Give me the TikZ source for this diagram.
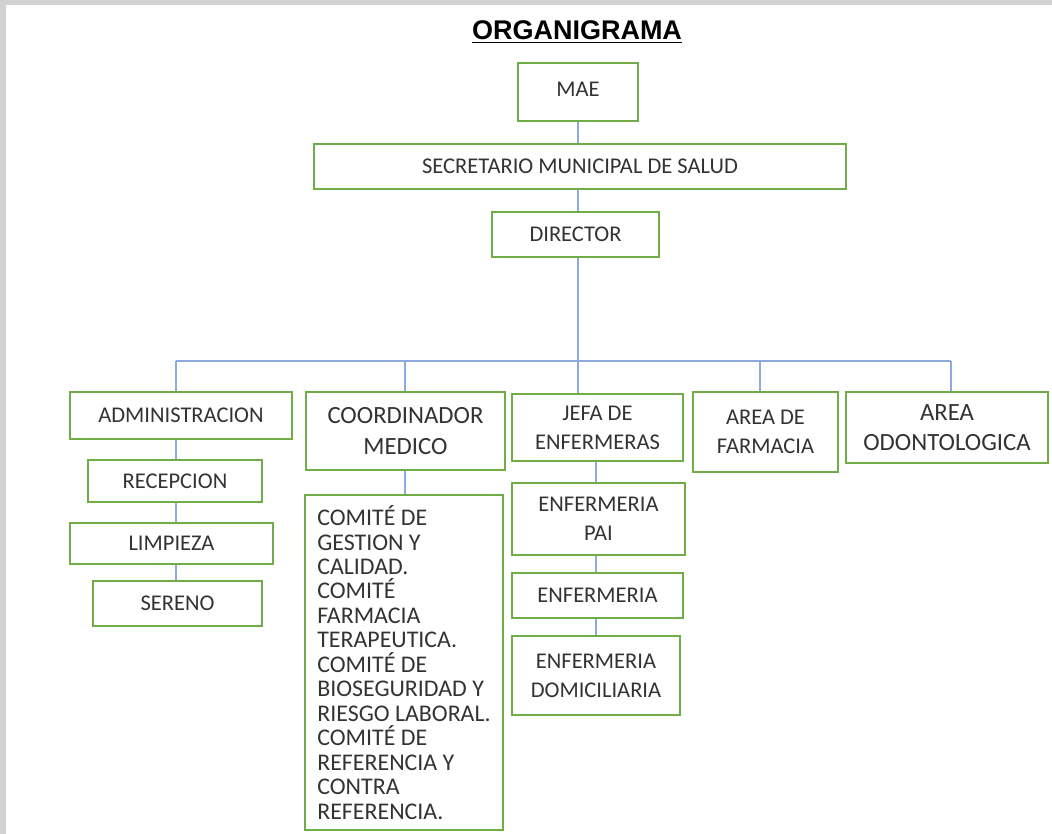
\documentclass[tikz,border=0pt]{standalone}
\usepackage{fontspec}
\setmainfont{Carlito}
\newfontfamily\titlefont{Liberation Sans}
\usetikzlibrary{calc}

\definecolor{boxgreen}{HTML}{70AD47}
\definecolor{linkblue}{HTML}{8EA9DB}
\definecolor{textgray}{HTML}{333333}
\definecolor{bggray}{HTML}{D2D2D2}

\tikzset{
  orgbox/.style={draw=boxgreen, line width=1.4pt, fill=white, inner sep=0pt,
    align=center, text=textgray, font=\fontsize{16}{20.5}\selectfont},
  bigtext/.style={font=\fontsize{17.6}{21.5}\selectfont},
  link/.style={draw=linkblue, line width=1.1pt}
}

\begin{document}
\begin{tikzpicture}[x=0.025cm, y=-0.025cm]
      \useasboundingbox (0,0) rectangle (1052,834);

      % Gray frame and white sheet
      \fill[bggray] (0,0) rectangle (1052,834);
      \fill[white] (6,5) rectangle (1052,834);

      % Title
      \node[font=\titlefont\bfseries\fontsize{19.2}{23}\selectfont] (title) at (577,32) {\underline{ORGANIGRAMA}};

      % Top of the chart
      \node[orgbox, minimum width=3.0cm, minimum height=1.45cm] (mae) at (578,92) {\raisebox{4pt}{MAE}};
      \node[orgbox, minimum width=13.3cm, minimum height=1.125cm] (secretario) at (580,166.5) {SECRETARIO MUNICIPAL DE SALUD};
      \node[orgbox, minimum width=4.175cm, minimum height=1.125cm] (director) at (575.5,234.5) {DIRECTOR};

      % Second level
      \node[orgbox, minimum width=5.55cm, minimum height=1.175cm] (admin) at (181,415.5) {ADMINISTRACION};
      \node[orgbox, bigtext, minimum width=4.975cm, minimum height=1.95cm] (coord) at (405.5,431) {COORDINADOR\\MEDICO};
      \node[orgbox, minimum width=4.275cm, minimum height=1.675cm] (jefa) at (597.5,427.5) {JEFA DE\\ENFERMERAS};
      \node[orgbox, minimum width=3.625cm, minimum height=2.0cm] (farmacia) at (765.5,432) {AREA DE\\FARMACIA};
      \node[orgbox, bigtext, minimum width=5.05cm, minimum height=1.775cm] (odonto) at (947,427.5) {AREA\\ODONTOLOGICA};

      % Under administracion
      \node[orgbox, minimum width=4.35cm, minimum height=1.05cm] (recepcion) at (175,481) {RECEPCION};
      \node[orgbox, minimum width=5.075cm, minimum height=1.025cm] (limpieza) at (171.5,543.5) {LIMPIEZA};
      \node[orgbox, minimum width=4.225cm, minimum height=1.125cm] (sereno) at (177.5,603.5) {SERENO};

      % Under coordinador medico
      \node[orgbox, minimum width=4.95cm, minimum height=8.375cm, align=left,
        font=\fontsize{17}{17.4}\selectfont] (comite) at (404,662.5) {%
COMITÉ DE\\
GESTION Y\\
CALIDAD.\\
COMITÉ\\
FARMACIA\\
TERAPEUTICA.\\
COMITÉ DE\\
BIOSEGURIDAD Y\\
RIESGO LABORAL.\\
COMITÉ DE\\
REFERENCIA Y\\
CONTRA\\
REFERENCIA.};

      % Under jefa de enfermeras
      \node[orgbox, minimum width=4.325cm, minimum height=1.8cm] (enfpai) at (598.5,519) {ENFERMERIA\\PAI};
      \node[orgbox, minimum width=4.275cm, minimum height=1.125cm] (enfermeria) at (597.5,595.5) {ENFERMERIA};
      \node[orgbox, minimum width=4.2cm, minimum height=1.975cm] (domic) at (596,675.5) {ENFERMERIA\\DOMICILIARIA};

      % Bus points
      \coordinate (busAdmin) at (176,361);
      \coordinate (busCoord) at (405,361);
      \coordinate (busJefa) at (578,361);
      \coordinate (busFarm) at (760,361);
      \coordinate (busOdon) at (951,361);
      \coordinate (nurseLine) at (596,361);

      % Connectors from the top
      \draw[link] (mae.south) -- (mae.south |- secretario.north);
      \draw[link] (mae.south |- secretario.south) -- (mae.south |- director.north);
      \draw[link] (busJefa |- director.south) -- (busJefa);
      \draw[link] (busAdmin) -- (busOdon);
      \draw[link] (busAdmin) -- (busAdmin |- admin.north);
      \draw[link] (busCoord) -- (busCoord |- coord.north);
      \draw[link] (busJefa) -- (busJefa |- jefa.north);
      \draw[link] (busFarm) -- (busFarm |- farmacia.north);
      \draw[link] (busOdon) -- (busOdon |- odonto.north);

      % Chains below each head
      \draw[link] (busAdmin |- admin.south) -- (busAdmin |- recepcion.north);
      \draw[link] (busAdmin |- recepcion.south) -- (busAdmin |- limpieza.north);
      \draw[link] (busAdmin |- limpieza.south) -- (busAdmin |- sereno.north);
      \draw[link] (busCoord |- coord.south) -- (busCoord |- comite.north);
      \draw[link] (nurseLine |- jefa.south) -- (nurseLine |- enfpai.north);
      \draw[link] (nurseLine |- enfpai.south) -- (nurseLine |- enfermeria.north);
      \draw[link] (nurseLine |- enfermeria.south) -- (nurseLine |- domic.north);

    \end{tikzpicture}
\end{document}
